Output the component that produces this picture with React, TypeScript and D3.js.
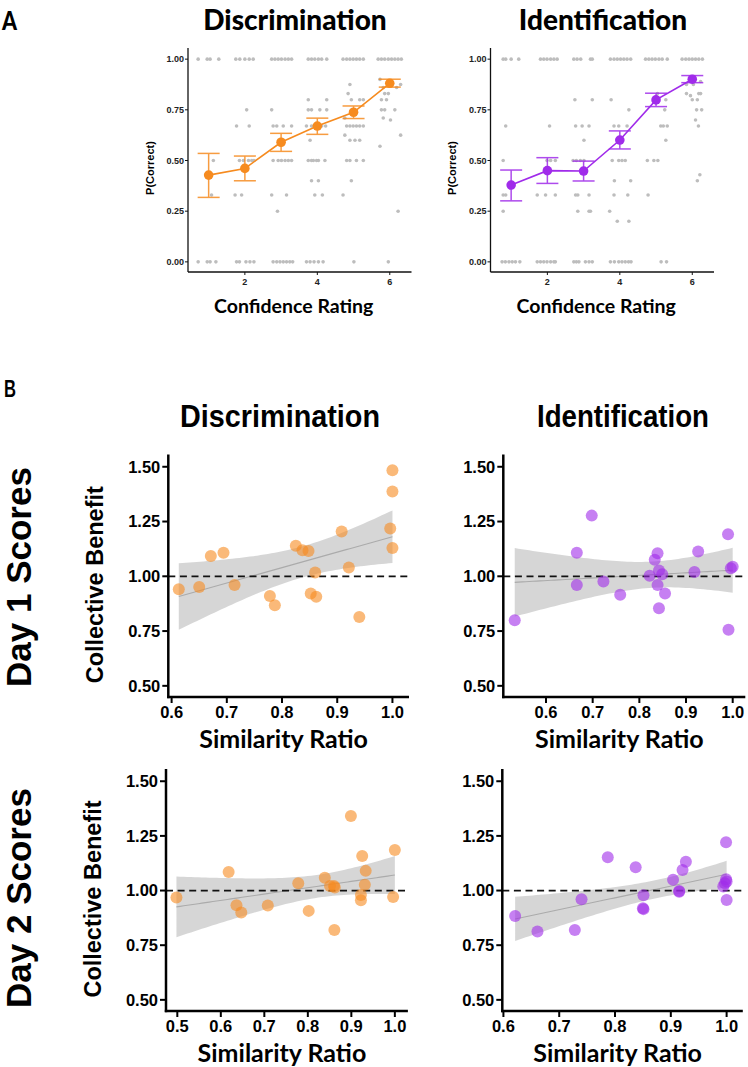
import React from "react";
import * as d3 from "d3";

const W = 748;
const H = 1067;

// ---- panel A: P(correct) by confidence rating ----
const ratings = [1, 2, 3, 4, 5, 6];
const discMean = [0.428, 0.461, 0.59, 0.67, 0.738, 0.881];
const discLo = [0.318, 0.4, 0.545, 0.629, 0.707, 0.862];
const discHi = [0.535, 0.522, 0.634, 0.709, 0.769, 0.901];
const identMean = [0.379, 0.45, 0.448, 0.601, 0.799, 0.901];
const identLo = [0.301, 0.387, 0.399, 0.557, 0.766, 0.884];
const identHi = [0.453, 0.514, 0.497, 0.646, 0.832, 0.919];

// per-participant proportions (jittered rating, p)
const discOnes = [0.71, 0.96, 1.04, 1.28, 1.75, 1.86, 2.0, 2.12, 2.23, 2.74, 2.83, 2.92, 3.01, 3.11, 3.2, 3.29, 3.75, 3.84, 3.93, 4.03, 4.12, 4.26, 4.71, 4.81, 4.9, 4.99, 5.08, 5.17, 5.27, 5.68, 5.77, 5.86, 5.96, 6.05, 6.14, 6.23, 6.32];
const discZeros = [0.71, 0.96, 1.04, 1.2, 1.77, 1.85, 2.03, 2.14, 2.25, 2.78, 2.88, 2.97, 3.06, 3.15, 3.24, 3.32, 3.7, 3.8, 3.91, 4.03, 4.16, 5.01, 5.96];
const discMid: [number, number][] = [
  [1.13, 0.5], [1.08, 0.33],
  [1.73, 0.33], [1.91, 0.33], [1.77, 0.67], [2.12, 0.67], [2.05, 0.75], [1.85, 0.5], [1.96, 0.5], [2.1, 0.5], [2.19, 0.5], [2.25, 0.5],
  [2.74, 0.33], [3.15, 0.33], [2.9, 0.25], [2.74, 0.75], [2.78, 0.67], [2.88, 0.67], [3.06, 0.67], [3.29, 0.67], [2.78, 0.5], [2.92, 0.5], [3.01, 0.5], [3.11, 0.5], [3.2, 0.5], [3.29, 0.5],
  [3.75, 0.8], [4.26, 0.8], [3.75, 0.75], [3.84, 0.75], [4.07, 0.75], [4.26, 0.75], [3.8, 0.6], [3.7, 0.67], [3.84, 0.67], [3.98, 0.67], [4.12, 0.67], [4.23, 0.67], [3.75, 0.5], [3.84, 0.5], [3.89, 0.5], [3.98, 0.5], [4.03, 0.5], [4.21, 0.5], [3.84, 0.4], [4.03, 0.4], [3.93, 0.33], [4.14, 0.33],
  [4.9, 0.875], [4.85, 0.83], [4.94, 0.8], [5.17, 0.8], [5.27, 0.8], [4.76, 0.625], [4.81, 0.67], [4.9, 0.67], [4.99, 0.67], [5.08, 0.67], [5.17, 0.67], [5.27, 0.67], [4.9, 0.6], [5.04, 0.6], [5.17, 0.6], [4.81, 0.5], [4.9, 0.5], [5.08, 0.5], [5.27, 0.5], [4.94, 0.4], [4.71, 0.33], [4.76, 0.71],
  [5.73, 0.9], [5.82, 0.86], [6.19, 0.86], [6.3, 0.875], [5.86, 0.83], [5.96, 0.83], [5.77, 0.8], [5.91, 0.8], [5.77, 0.75], [5.86, 0.75], [6.14, 0.75], [5.82, 0.71], [6.02, 0.7], [5.73, 0.57], [6.3, 0.625], [6.23, 0.25],
];
const identOnes = [0.78, 0.85, 1.0, 1.21, 1.81, 1.9, 1.99, 2.09, 2.18, 2.27, 2.73, 2.82, 2.92, 3.19, 3.24, 3.74, 3.84, 3.93, 4.02, 4.11, 4.2, 4.3, 4.71, 4.8, 4.89, 4.98, 5.08, 5.17, 5.31, 5.72, 5.82, 5.91, 6.0, 6.09, 6.18, 6.28];
const identZeros = [0.75, 0.84, 0.94, 1.03, 1.12, 1.24, 1.72, 1.81, 1.9, 1.99, 2.09, 2.18, 2.22, 2.73, 2.8, 2.87, 3.05, 3.15, 3.24, 3.74, 3.85, 3.97, 4.06, 4.15, 4.24, 4.31, 5.14, 5.29];
const identMid: [number, number][] = [
  [0.85, 0.67], [0.78, 0.5], [0.78, 0.33], [0.85, 0.33], [0.78, 0.25],
  [2.06, 0.67], [1.99, 0.5], [2.09, 0.5], [2.22, 0.5], [1.72, 0.33], [1.95, 0.33], [2.22, 0.33],
  [2.76, 0.8], [3.24, 0.8], [2.78, 0.67], [2.96, 0.67], [3.15, 0.67], [3.01, 0.6], [2.71, 0.5], [2.8, 0.5], [2.91, 0.5], [3.01, 0.5], [2.78, 0.33], [2.84, 0.33], [3.15, 0.33], [2.84, 0.25], [3.15, 0.25], [3.19, 0.25],
  [3.76, 0.8], [4.25, 0.75], [3.84, 0.67], [3.97, 0.67], [4.2, 0.67], [3.79, 0.5], [3.97, 0.5], [4.06, 0.5], [4.15, 0.5], [3.85, 0.4], [4.3, 0.4], [3.84, 0.33], [4.22, 0.33], [3.72, 0.25], [3.93, 0.2], [4.25, 0.2],
  [5.27, 0.8], [5.24, 0.75], [5.13, 0.67], [5.2, 0.67], [5.31, 0.67], [5.27, 0.6], [4.76, 0.5], [4.94, 0.5], [5.05, 0.5], [4.78, 0.33], [5.04, 0.83],
  [5.84, 0.875], [6.03, 0.875], [6.23, 0.89], [5.84, 0.83], [6.18, 0.83], [6.23, 0.83], [5.95, 0.82], [6.0, 0.8], [6.14, 0.8], [6.12, 0.75], [6.26, 0.75], [6.09, 0.7], [6.17, 0.67], [6.21, 0.43], [6.14, 0.4],
];
const pTicks = [0, 0.25, 0.5, 0.75, 1];
const ratingTicks = [2, 4, 6];

// ---- panel B: collective benefit vs similarity ratio ----
const day1Disc: [number, number][] = [
  [0.613, 0.941], [0.65, 0.951], [0.671, 1.093], [0.694, 1.107], [0.714, 0.96], [0.778, 0.91], [0.787, 0.868],
  [0.825, 1.139], [0.837, 1.119], [0.848, 1.116], [0.852, 0.922], [0.86, 1.017], [0.862, 0.907], [0.908, 1.204],
  [0.921, 1.04], [0.94, 0.814], [0.996, 1.218], [1.0, 1.484], [1.0, 1.387], [1.0, 1.129],
];
const day1Ident: [number, number][] = [
  [0.533, 0.799], [0.666, 1.108], [0.666, 0.96], [0.698, 1.277], [0.723, 0.976], [0.759, 0.916], [0.822, 1.002],
  [0.833, 1.076], [0.839, 1.105], [0.842, 1.027], [0.839, 0.96], [0.849, 1.009], [0.855, 0.921], [0.842, 0.854],
  [0.918, 1.02], [0.926, 1.113], [0.99, 1.192], [0.991, 0.756], [0.996, 1.037], [1.0, 1.044],
];
const day2Disc: [number, number][] = [
  [0.498, 0.968], [0.618, 1.085], [0.636, 0.933], [0.647, 0.9], [0.708, 0.932], [0.778, 1.033], [0.802, 0.907],
  [0.839, 1.059], [0.851, 1.021], [0.86, 1.021], [0.862, 1.014], [0.861, 0.82], [0.899, 1.341], [0.925, 1.158],
  [0.922, 0.98], [0.922, 0.956], [0.933, 1.09], [0.931, 1.026], [0.996, 0.971], [1.0, 1.186],
];
const day2Ident: [number, number][] = [
  [0.621, 0.884], [0.661, 0.813], [0.728, 0.82], [0.74, 0.96], [0.787, 1.152], [0.837, 1.107], [0.851, 0.979],
  [0.85, 0.919], [0.851, 0.915], [0.904, 1.049], [0.915, 0.998], [0.915, 0.995], [0.921, 1.094], [0.927, 1.132],
  [0.999, 1.221], [0.999, 1.052], [0.994, 1.018], [0.997, 1.033], [1.0, 0.957], [1.0, 1.041],
];
const cbTicks = [0.5, 0.75, 1.0, 1.25, 1.5];

const ORANGE = "#F68B1F";
const PURPLE = "#A02BEA";
const ARIAL = "'Liberation Sans', Arial, sans-serif";
const HUMANIST = "Lato, 'Open Sans', sans-serif";

// two-sided 95% t quantiles
const T95: Record<number, number> = { 16: 2.12, 17: 2.11, 18: 2.101, 19: 2.093, 20: 2.086, 21: 2.08, 22: 2.074 };

function lmBand(pts: [number, number][]) {
  const n = pts.length;
  const xs = pts.map((p) => p[0]);
  const ys = pts.map((p) => p[1]);
  const mx = d3.mean(xs)!;
  const my = d3.mean(ys)!;
  const sxx = d3.sum(xs, (x) => (x - mx) ** 2);
  const sxy = d3.sum(pts, (p) => (p[0] - mx) * (p[1] - my));
  const b = sxy / sxx;
  const a = my - b * mx;
  const sse = d3.sum(pts, (p) => (p[1] - a - b * p[0]) ** 2);
  const s = Math.sqrt(sse / (n - 2));
  const t = T95[n - 2] ?? 2.09;
  const lo = d3.min(xs)!;
  const hi = Math.min(1, d3.max(xs)!);
  return d3.range(0, 61).map((i) => {
    const x = lo + ((hi - lo) * i) / 60;
    const fit = a + b * x;
    const se = s * Math.sqrt(1 / n + (x - mx) ** 2 / sxx);
    return { x, fit, lo: fit - t * se, hi: fit + t * se };
  });
}

type ConfProps = {
  x0: number;
  means: number[];
  lo: number[];
  hi: number[];
  ones: number[];
  zeros: number[];
  mid: [number, number][];
  color: string;
  title: string;
  titleCx: number;
};

function ConfPanel({ x0, means, lo, hi, ones, zeros, mid, color, title, titleCx }: ConfProps) {
  const x = d3.scaleLinear().domain([0.43, 6.6]).range([x0, x0 + 223.5]);
  const y = d3.scaleLinear().domain([-0.05, 1.055]).range([272, 48]);
  const raw: [number, number][] = [
    ...ones.map((v) => [v, 1] as [number, number]),
    ...zeros.map((v) => [v, 0] as [number, number]),
    ...mid,
  ];
  const line = d3.line<number>().x((_, i) => x(ratings[i])).y((d) => y(d));
  const [xa, xb] = x.range();
  return (
    <g>
      <text x={titleCx} y={30} textAnchor="middle" fontFamily={HUMANIST} fontWeight={900} fontSize={28}>
        {title}
      </text>
      {raw.map((d, i) => (
        <circle key={i} cx={x(d[0])} cy={y(d[1])} r={1.8} fill="#BDBDBD" />
      ))}
      {ratings.map((r, i) => (
        <g key={r} stroke={color} strokeWidth={1.5} opacity={0.85}>
          <line x1={x(r)} x2={x(r)} y1={y(lo[i])} y2={y(hi[i])} />
          <line x1={x(r) - 11} x2={x(r) + 11} y1={y(lo[i])} y2={y(lo[i])} />
          <line x1={x(r) - 11} x2={x(r) + 11} y1={y(hi[i])} y2={y(hi[i])} />
        </g>
      ))}
      <path d={line(means)!} fill="none" stroke={color} strokeWidth={1.6} />
      {means.map((m, i) => (
        <circle key={i} cx={x(ratings[i])} cy={y(m)} r={4.8} fill={color} />
      ))}
      <line x1={xa} x2={xb} y1={272} y2={272} stroke="#111" strokeWidth={1.3} />
      <line x1={xa} x2={xa} y1={48} y2={272} stroke="#111" strokeWidth={1.3} />
      {pTicks.map((t) => (
        <g key={t}>
          <line x1={xa - 3} x2={xa} y1={y(t)} y2={y(t)} stroke="#111" strokeWidth={1} />
          <text x={xa - 4} y={y(t)} dy="0.35em" textAnchor="end" fontFamily={ARIAL} fontWeight={700} fontSize={9} fill="#222">
            {d3.format(".2f")(t)}
          </text>
        </g>
      ))}
      {ratingTicks.map((t) => (
        <g key={t}>
          <line x1={x(t)} x2={x(t)} y1={272} y2={275} stroke="#111" strokeWidth={1} />
          <text x={x(t)} y={284.5} textAnchor="middle" fontFamily={ARIAL} fontWeight={700} fontSize={9} fill="#222">
            {t}
          </text>
        </g>
      ))}
      <text
        transform={`translate(${xa - 34.5},168) rotate(-90)`}
        textAnchor="middle"
        fontFamily={ARIAL}
        fontWeight={700}
        fontSize={11}
      >
        P(Correct)
      </text>
      <text x={(xa + xb) / 2 - 6} y={313} textAnchor="middle" fontFamily={HUMANIST} fontWeight={700} fontSize={19.5}>
        Confidence Rating
      </text>
    </g>
  );
}

type ScatterProps = {
  pts: [number, number][];
  xDomain: [number, number];
  xRange: [number, number];
  yRange: [number, number];
  color: string;
  xTicks: number[];
  yTitle: boolean;
};

function ScatterPanel({ pts, xDomain, xRange, yRange, color, xTicks, yTitle }: ScatterProps) {
  const x = d3.scaleLinear().domain(xDomain).range(xRange);
  const y = d3.scaleLinear().domain([0.449, 1.556]).range(yRange);
  const band = lmBand(pts);
  const area = d3
    .area<{ x: number; lo: number; hi: number }>()
    .x((d) => x(d.x))
    .y0((d) => y(d.lo))
    .y1((d) => y(d.hi));
  const fitLine = d3
    .line<{ x: number; fit: number }>()
    .x((d) => x(d.x))
    .y((d) => y(d.fit));
  const [xa, xb] = xRange;
  const [yb, yt] = yRange;
  return (
    <g>
      <path d={area(band)!} fill="#999999" fillOpacity={0.4} />
      <path d={fitLine(band)!} fill="none" stroke="#ABABAB" strokeWidth={1.1} />
      <line x1={xa} x2={xb} y1={y(1)} y2={y(1)} stroke="#111" strokeWidth={1.8} strokeDasharray="7,4.6" />
      {pts.map((p, i) => (
        <circle key={i} cx={x(p[0])} cy={y(p[1])} r={6} fill={color} fillOpacity={0.6} />
      ))}
      <line x1={xa - 1.2} x2={xb} y1={yb} y2={yb} stroke="#000" strokeWidth={2.5} />
      <line x1={xa} x2={xa} y1={yt} y2={yb + 1.2} stroke="#000" strokeWidth={2.5} />
      {cbTicks.map((t) => (
        <g key={t}>
          <line x1={xa - 6} x2={xa} y1={y(t)} y2={y(t)} stroke="#000" strokeWidth={2} />
          <text x={xa - 8} y={y(t)} dy="0.36em" textAnchor="end" fontFamily={ARIAL} fontWeight={700} fontSize={16.5}>
            {d3.format(".2f")(t)}
          </text>
        </g>
      ))}
      {xTicks.map((t) => (
        <g key={t}>
          <line x1={x(t)} x2={x(t)} y1={yb} y2={yb + 6} stroke="#000" strokeWidth={2} />
          <text x={x(t)} y={yb + 20.5} textAnchor="middle" fontFamily={ARIAL} fontWeight={700} fontSize={16.5}>
            {d3.format(".1f")(t)}
          </text>
        </g>
      ))}
      <text x={(xa + xb) / 2 - 5} y={yb + 50.7} textAnchor="middle" fontFamily={HUMANIST} fontWeight={700} fontSize={25}>
        Similarity Ratio
      </text>
      {yTitle && (
        <text
          transform={`translate(${xa - 65.5},${(yb + yt) / 2 + 9}) rotate(-90)`}
          textAnchor="middle"
          fontFamily={ARIAL}
          fontWeight={700}
          fontSize={23.5}
        >
          Collective Benefit
        </text>
      )}
    </g>
  );
}

export default function App() {
  return (
    <div style={{ position: "absolute", left: 0, top: 0 }}>
      <svg width={W} height={H} viewBox={`0 0 ${W} ${H}`} style={{ display: "block", background: "#fff" }}>
        <text x={2} y={30} fontFamily={HUMANIST} fontWeight={900} fontSize={26} textLength={15} lengthAdjust="spacingAndGlyphs">
          A
        </text>
        <ConfPanel
          x0={188}
          means={discMean}
          lo={discLo}
          hi={discHi}
          ones={discOnes}
          zeros={discZeros}
          mid={discMid}
          color={ORANGE}
          title="Discrimination"
          titleCx={295}
        />
        <ConfPanel
          x0={490.5}
          means={identMean}
          lo={identLo}
          hi={identHi}
          ones={identOnes}
          zeros={identZeros}
          mid={identMid}
          color={PURPLE}
          title="Identification"
          titleCx={603}
        />

        {/* condensed headings for panel B */}
        <text x={4} y={397} fontFamily={ARIAL} fontWeight={700} fontSize={24} textLength={12} lengthAdjust="spacingAndGlyphs">
          B
        </text>
        <text x={180} y={427} fontFamily={ARIAL} fontWeight={700} fontSize={32} textLength={200} lengthAdjust="spacingAndGlyphs">
          Discrimination
        </text>
        <text x={537} y={427} fontFamily={ARIAL} fontWeight={700} fontSize={32} textLength={172} lengthAdjust="spacingAndGlyphs">
          Identification
        </text>
        <text transform="translate(31,577) rotate(-90)" textAnchor="middle" fontFamily={ARIAL} fontWeight={700} fontSize={35}>
          Day 1 Scores
        </text>
        <text transform="translate(31,898) rotate(-90)" textAnchor="middle" fontFamily={ARIAL} fontWeight={700} fontSize={35}>
          Day 2 Scores
        </text>

        <ScatterPanel
          pts={day1Disc}
          xDomain={[0.594, 1.03]}
          xRange={[168.3, 409]}
          yRange={[697, 454.5]}
          color={ORANGE}
          xTicks={[0.6, 0.7, 0.8, 0.9, 1.0]}
          yTitle
        />
        <ScatterPanel
          pts={day1Ident}
          xDomain={[0.5085, 1.027]}
          xRange={[503.3, 745.3]}
          yRange={[697, 454.5]}
          color={PURPLE}
          xTicks={[0.6, 0.7, 0.8, 0.9, 1.0]}
          yTitle={false}
        />
        <ScatterPanel
          pts={day2Disc}
          xDomain={[0.474, 1.03]}
          xRange={[166, 407.9]}
          yRange={[1011, 769]}
          color={ORANGE}
          xTicks={[0.5, 0.6, 0.7, 0.8, 0.9, 1.0]}
          yTitle
        />
        <ScatterPanel
          pts={day2Ident}
          xDomain={[0.598, 1.029]}
          xRange={[502.3, 742.8]}
          yRange={[1011, 769]}
          color={PURPLE}
          xTicks={[0.6, 0.7, 0.8, 0.9, 1.0]}
          yTitle={false}
        />
      </svg>
    </div>
  );
}
